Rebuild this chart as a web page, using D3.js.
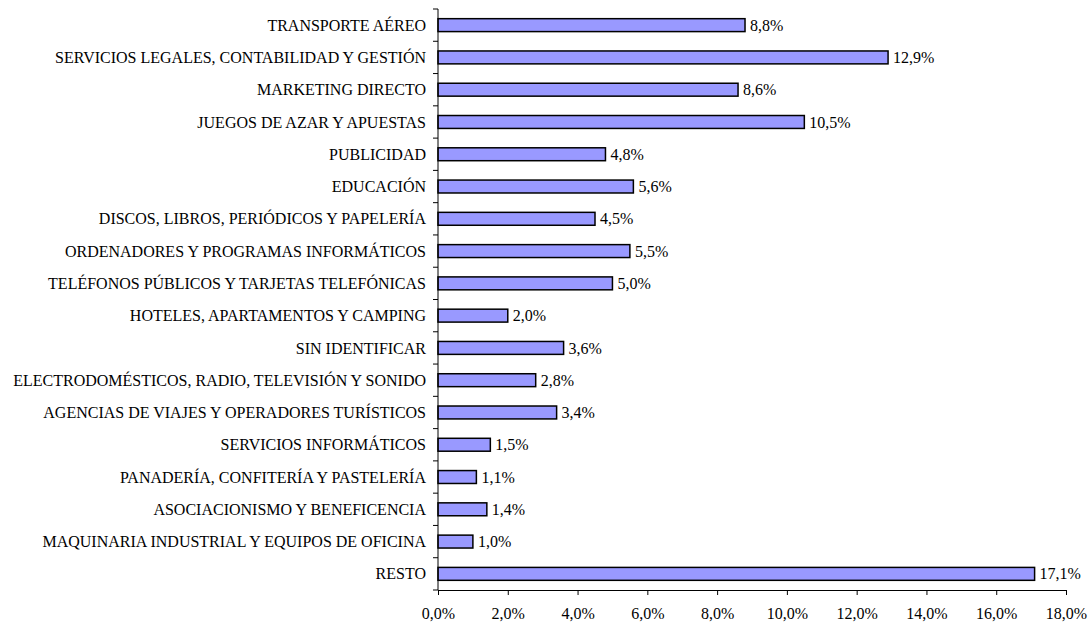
<!DOCTYPE html>
<html>
<head>
  <meta charset="UTF-8">
  <title>Sectores</title>
  <script src="https://cdn.jsdelivr.net/npm/d3@7"></script>
  <style>
    body { margin: 0; background: #fff; }
    svg text { font-family: "Liberation Serif", "Times New Roman", serif; font-size: 16px; fill: #000; }
  </style>
</head>
<body>
  <div id="chart"></div>
  <script>
    // categories, top to bottom
    const categories = [
      'TRANSPORTE AÉREO',
      'SERVICIOS LEGALES, CONTABILIDAD Y GESTIÓN',
      'MARKETING DIRECTO',
      'JUEGOS DE AZAR Y APUESTAS',
      'PUBLICIDAD',
      'EDUCACIÓN',
      'DISCOS, LIBROS, PERIÓDICOS Y PAPELERÍA',
      'ORDENADORES Y PROGRAMAS INFORMÁTICOS',
      'TELÉFONOS PÚBLICOS Y TARJETAS TELEFÓNICAS',
      'HOTELES, APARTAMENTOS Y CAMPING',
      'SIN IDENTIFICAR',
      'ELECTRODOMÉSTICOS, RADIO, TELEVISIÓN Y SONIDO',
      'AGENCIAS DE VIAJES Y OPERADORES TURÍSTICOS',
      'SERVICIOS INFORMÁTICOS',
      'PANADERÍA, CONFITERÍA Y PASTELERÍA',
      'ASOCIACIONISMO Y BENEFICENCIA',
      'MAQUINARIA INDUSTRIAL Y EQUIPOS DE OFICINA',
      'RESTO'
    ];
    const values = [8.8, 12.9, 8.6, 10.5, 4.8, 5.6, 4.5, 5.5, 5.0, 2.0, 3.6, 2.8, 3.4, 1.5, 1.1, 1.4, 1.0, 17.1];
    const xTicks = [0, 2, 4, 6, 8, 10, 12, 14, 16, 18];

    const width = 1090, height = 625;
    const margin = {top: 9, right: 24, bottom: 35, left: 438};

    const fmt = v => v.toFixed(1).replace('.', ',') + '%';

    const svg = d3.select('#chart').append('svg')
      .attr('width', width)
      .attr('height', height);

    const x = d3.scaleLinear().domain([0, 18]).range([margin.left, width - margin.right]);
    const y = d3.scaleBand().domain(categories).range([margin.top, height - margin.bottom]).paddingInner(0.6).paddingOuter(0.3);

    // bars
    svg.append('g').selectAll('rect')
      .data(categories)
      .join('rect')
      .attr('x', x(0))
      .attr('y', d => y(d))
      .attr('width', (d, i) => x(values[i]) - x(0))
      .attr('height', y.bandwidth())
      .attr('fill', '#9999ff')
      .attr('stroke', '#000')
      .attr('stroke-width', 1.5);

    // value labels
    svg.append('g').selectAll('text')
      .data(categories)
      .join('text')
      .attr('x', (d, i) => x(values[i]) + 5)
      .attr('y', d => y(d) + y.bandwidth() / 2)
      .attr('dy', '0.35em')
      .text((d, i) => fmt(values[i]));

    // x axis
    const xAxis = svg.append('g')
      .attr('transform', `translate(0,${height - margin.bottom})`)
      .call(d3.axisBottom(x).tickValues(xTicks).tickFormat(fmt).tickSize(5).tickSizeOuter(0).tickPadding(13));
    xAxis.select('.domain').attr('stroke', '#000');
    xAxis.selectAll('text').attr('font-family', null).attr('font-size', null);

    // y axis, ticks sit between categories
    const bandStep = (height - margin.bottom - margin.top) / categories.length;
    const yAxis = svg.append('g');
    yAxis.append('line')
      .attr('x1', x(0)).attr('x2', x(0))
      .attr('y1', margin.top).attr('y2', height - margin.bottom)
      .attr('stroke', '#000');
    yAxis.selectAll('.tk')
      .data(d3.range(categories.length + 1))
      .join('line')
      .attr('x1', x(0) - 5).attr('x2', x(0))
      .attr('y1', i => margin.top + i * bandStep)
      .attr('y2', i => margin.top + i * bandStep)
      .attr('stroke', '#000');
    yAxis.selectAll('text')
      .data(categories)
      .join('text')
      .attr('x', x(0) - 12)
      .attr('y', d => y(d) + y.bandwidth() / 2)
      .attr('dy', '0.35em')
      .attr('text-anchor', 'end')
      .text(d => d);
  </script>
</body>
</html>
